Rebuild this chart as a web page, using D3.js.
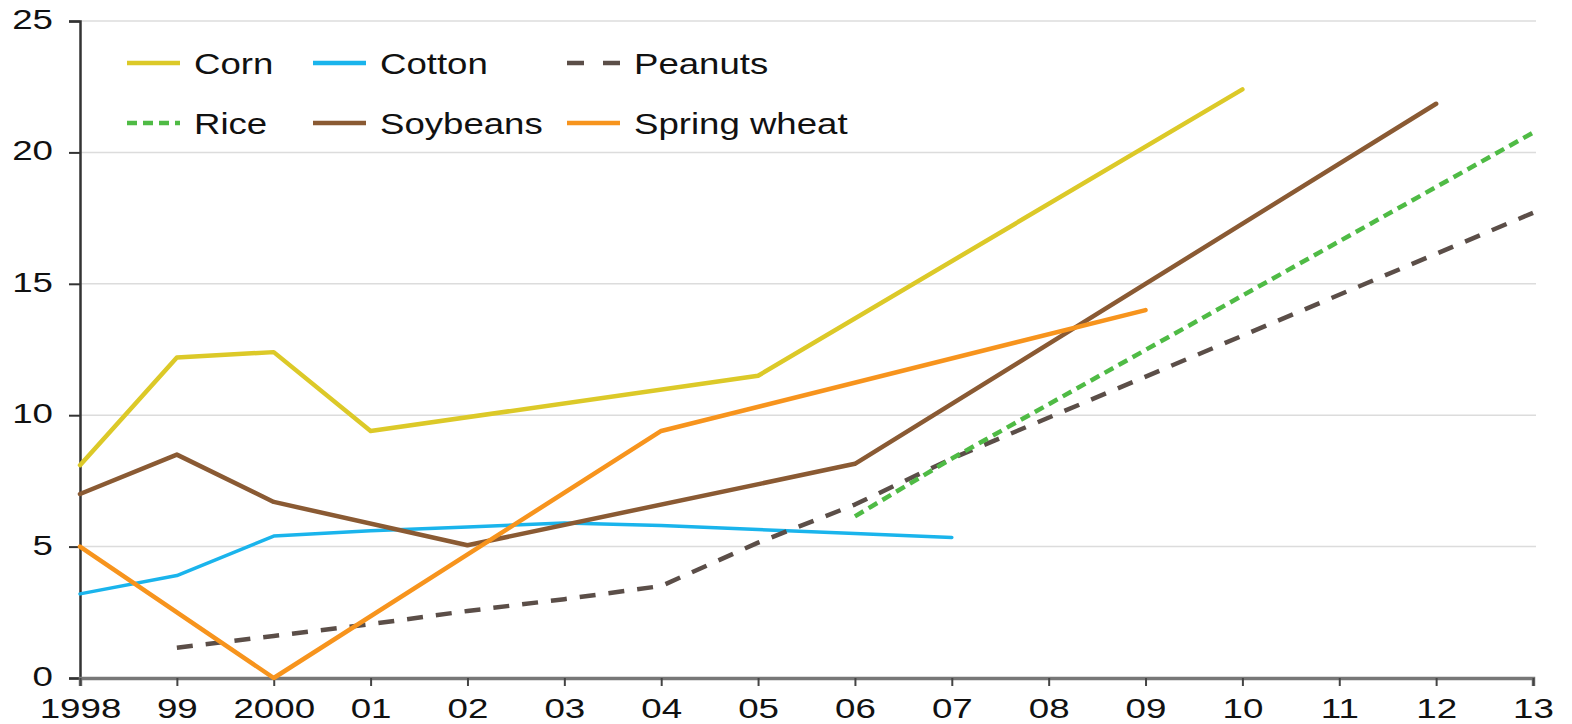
<!DOCTYPE html>
<html>
<head>
<meta charset="utf-8">
<script src="https://cdn.jsdelivr.net/npm/d3@7"></script>
<style>
  body { margin: 0; background: #fff; }
  svg { display: block; font-family: "Liberation Sans", Arial, Helvetica, sans-serif; }
</style>
</head>
<body>
<div id="chart"></div>
<script>
    const years = [1998, 1999, 2000, 2001, 2002, 2003, 2004, 2005, 2006, 2007, 2008, 2009, 2010, 2011, 2012, 2013];
    const yearLabels = ["1998", "99", "2000", "01", "02", "03", "04", "05", "06", "07", "08", "09", "10", "11", "12", "13"];
    const yTicks = [0, 5, 10, 15, 20, 25];

    // [year, value] pairs
    const corn = [[1998, 8.1], [1999, 12.2], [2000, 12.4], [2001, 9.4], [2005, 11.5], [2010, 22.4]];
    const cotton = [[1998, 3.2], [1999, 3.9], [2000, 5.4], [2001, 5.6], [2002, 5.75], [2003, 5.9], [2004, 5.8], [2005, 5.65], [2006, 5.5], [2007, 5.35]];
    const peanuts = [[1999, 1.15], [2000, 1.6], [2001, 2.05], [2002, 2.55], [2003, 3.0], [2004, 3.5], [2005, 5.15], [2006, 6.6], [2007, 8.35], [2013, 17.7]];
    const rice = [[2006, 6.15], [2007, 8.35], [2013, 20.75]];
    const soybeans = [[1998, 7.0], [1999, 8.5], [2000, 6.7], [2002, 5.05], [2006, 8.15], [2012, 21.85]];
    const springWheat = [[1998, 5.0], [2000, 0], [2004, 9.4], [2009, 14.0]];

    const series = [
      { name: "Corn", data: corn, color: "#dcc928", dash: null },
      { name: "Cotton", data: cotton, color: "#1ab4ec", dash: null },
      { name: "Peanuts", data: peanuts, color: "#5b4e48", dash: "16,13" },
      { name: "Rice", data: rice, color: "#4fbb45", dash: "10,6" },
      { name: "Soybeans", data: soybeans, color: "#8a5a33", dash: null },
      { name: "Spring wheat", data: springWheat, color: "#f7941d", dash: null }
    ];

    // the original's lettering is wide, so text is stretched sideways
    const axisStretch = 1.36;
    const legendStretch = 1.22;

    const svg = d3.select("#chart").append("svg")
      .attr("width", 1572)
      .attr("height", 724);

    const x = d3.scaleLinear().domain([1998, 2013]).range([80, 1533]);
    const y = d3.scaleLinear().domain([0, 25]).range([678, 21]);

    // gridlines
    svg.append("g")
      .selectAll("line")
      .data(yTicks.filter(d => d > 0))
      .enter().append("line")
      .attr("x1", 80)
      .attr("x2", 1536)
      .attr("y1", d => y(d))
      .attr("y2", d => y(d))
      .attr("stroke", "#dcdcdc")
      .attr("stroke-width", 1.5);

    // y axis
    const yAxis = svg.append("g")
      .attr("transform", "translate(80,0)")
      .call(d3.axisLeft(y).tickValues(yTicks).tickSize(11));
    yAxis.select(".domain").attr("stroke", "#333").attr("stroke-width", 2.5);
    yAxis.selectAll(".tick line").attr("stroke", "#333").attr("stroke-width", 2);
    yAxis.selectAll(".tick text")
      .attr("font-size", 27)
      .attr("fill", "#111")
      .attr("font-family", "Liberation Sans, Arial, sans-serif")
      .attr("x", -27 / axisStretch)
      .attr("dy", "0.28em")
      .attr("transform", `scale(${axisStretch},1)`);

    // x axis
    const xAxis = svg.append("g")
      .attr("transform", `translate(0,${y(0)})`)
      .call(d3.axisBottom(x).tickValues(years).tickFormat((d, i) => yearLabels[i]).tickSize(8));
    xAxis.select(".domain").attr("stroke", "#777").attr("stroke-width", 3.5);
    xAxis.selectAll(".tick line").attr("stroke", "#444").attr("stroke-width", 2);
    xAxis.selectAll(".tick text")
      .attr("font-size", 27)
      .attr("fill", "#111")
      .attr("font-family", "Liberation Sans, Arial, sans-serif")
      .attr("y", 40)
      .attr("dy", 0)
      .attr("transform", `scale(${axisStretch},1)`);

    const line = d3.line()
      .x(d => x(d[0]))
      .y(d => y(d[1]));

    svg.append("g")
      .selectAll("path")
      .data(series)
      .enter().append("path")
      .attr("d", d => line(d.data))
      .attr("fill", "none")
      .attr("stroke", d => d.color)
      .attr("stroke-width", d => d.name === "Cotton" ? 3.5 : 4.5)
      .attr("stroke-dasharray", d => d.dash)
      .attr("stroke-linecap", d => d.dash ? "butt" : "round")
      .attr("stroke-linejoin", "round");

    // legend
    const legendX = [127, 313, 567];
    const legendY = [63, 123];
    const legend = svg.append("g")
      .selectAll("g")
      .data(series)
      .enter().append("g")
      .attr("transform", (d, i) => `translate(${legendX[i % 3]},${legendY[Math.floor(i / 3)]})`);

    legend.append("line")
      .attr("x1", 0)
      .attr("x2", 53)
      .attr("stroke", d => d.color)
      .attr("stroke-width", 4.5)
      .attr("stroke-dasharray", d => d.name === "Peanuts" ? "17,19" : d.dash);

    legend.append("text")
      .attr("x", 67 / legendStretch)
      .attr("dy", "0.36em")
      .attr("font-size", 30)
      .attr("fill", "#111")
      .attr("transform", `scale(${legendStretch},1)`)
      .text(d => d.name);
</script>
</body>
</html>
